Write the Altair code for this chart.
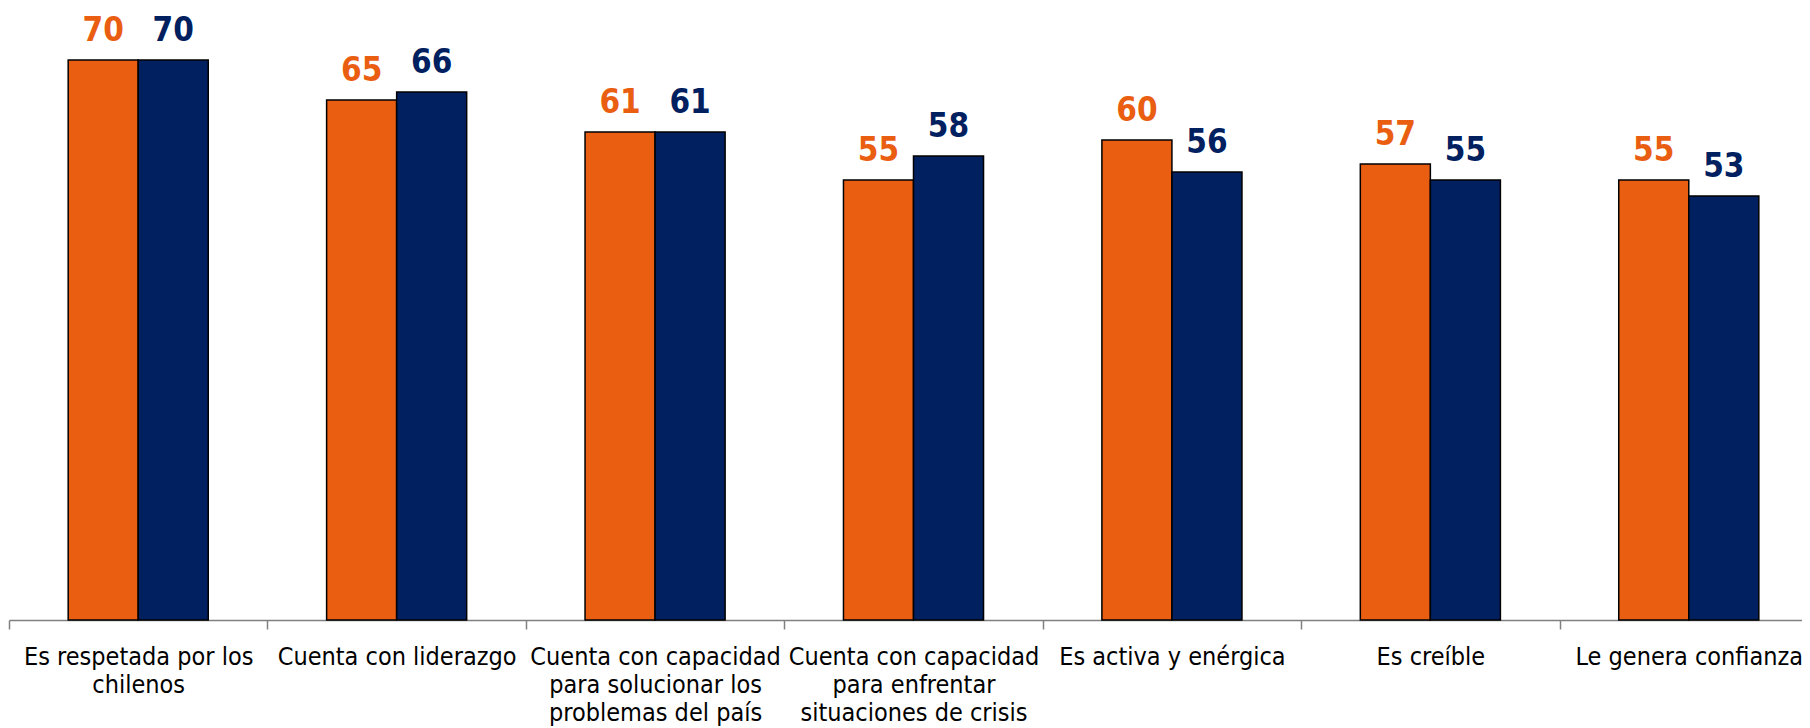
import altair as alt
import pandas as pd

categories = [
    "Es respetada por los\nchilenos",
    "Cuenta con liderazgo",
    "Cuenta con capacidad\npara solucionar los\nproblemas del país",
    "Cuenta con capacidad\npara enfrentar\nsituaciones de crisis",
    "Es activa y enérgica",
    "Es creíble",
    "Le genera confianza",
]
series_names = ["Medición 1", "Medición 2"]
serie1 = [70, 65, 61, 55, 60, 57, 55]
serie2 = [70, 66, 61, 58, 56, 55, 53]
colors = ["#EA5E12", "#002060"]

rows = []
for c, a, b in zip(categories, serie1, serie2):
    rows.append({"cat": c, "serie": series_names[0], "valor": a})
    rows.append({"cat": c, "serie": series_names[1], "valor": b})
df = pd.DataFrame(rows)

x = alt.X(
    "cat:N",
    sort=categories,
    title=None,
    scale=alt.Scale(paddingInner=0.458, paddingOuter=0.229, range=[0, 1809]),
    axis=alt.Axis(
        labelAngle=0,
        labelExpr="split(datum.label, '\\n')",
        labelFont="DejaVu Sans Condensed",
        labelFontSize=25,
        labelColor="#000000",
        labelLineHeight=28,
        labelPadding=15,
        labelLimit=400,
        tickOffset=-129.2,
        labelOffset=129.2,
        tickSize=9,
        tickColor="#808080",
        tickWidth=1.5,
        domainColor="#808080",
        domainWidth=1.5,
        grid=False,
    ),
)
y = alt.Y(
    "valor:Q",
    scale=alt.Scale(domain=[0, 76.5], nice=False),
    axis=None,
)
color = alt.Color(
    "serie:N",
    scale=alt.Scale(domain=series_names, range=colors),
    legend=None,
)
xoff = alt.XOffset("serie:N", sort=series_names, scale=alt.Scale(paddingInner=0, paddingOuter=0))

base = alt.Chart(df)
bars = base.mark_bar(stroke="#000000", strokeWidth=1.5).encode(
    x=x, y=y, color=color, xOffset=xoff
)
labels = base.mark_text(
    baseline="alphabetic",
    dy=-19,
    font="DejaVu Sans Condensed",
    fontSize=33,
    fontWeight="bold",
).encode(x=x, y=y, color=color, xOffset=xoff, text="valor:Q")

chart = (
    alt.layer(bars, labels)
    .properties(
        width=1793,
        height=612,
        autosize=alt.AutoSizeParams(type="none"),
        padding={"left": 1, "top": 0, "right": 0, "bottom": 108},
        view=alt.ViewBackground(stroke="#ffffff", strokeWidth=0, fill="#ffffff"),
    )
    .configure_view(strokeWidth=0, stroke="#ffffff")
    .configure(background="#ffffff")
)

chart.save("out.html", embed_options={"renderer": "svg", "actions": False})
